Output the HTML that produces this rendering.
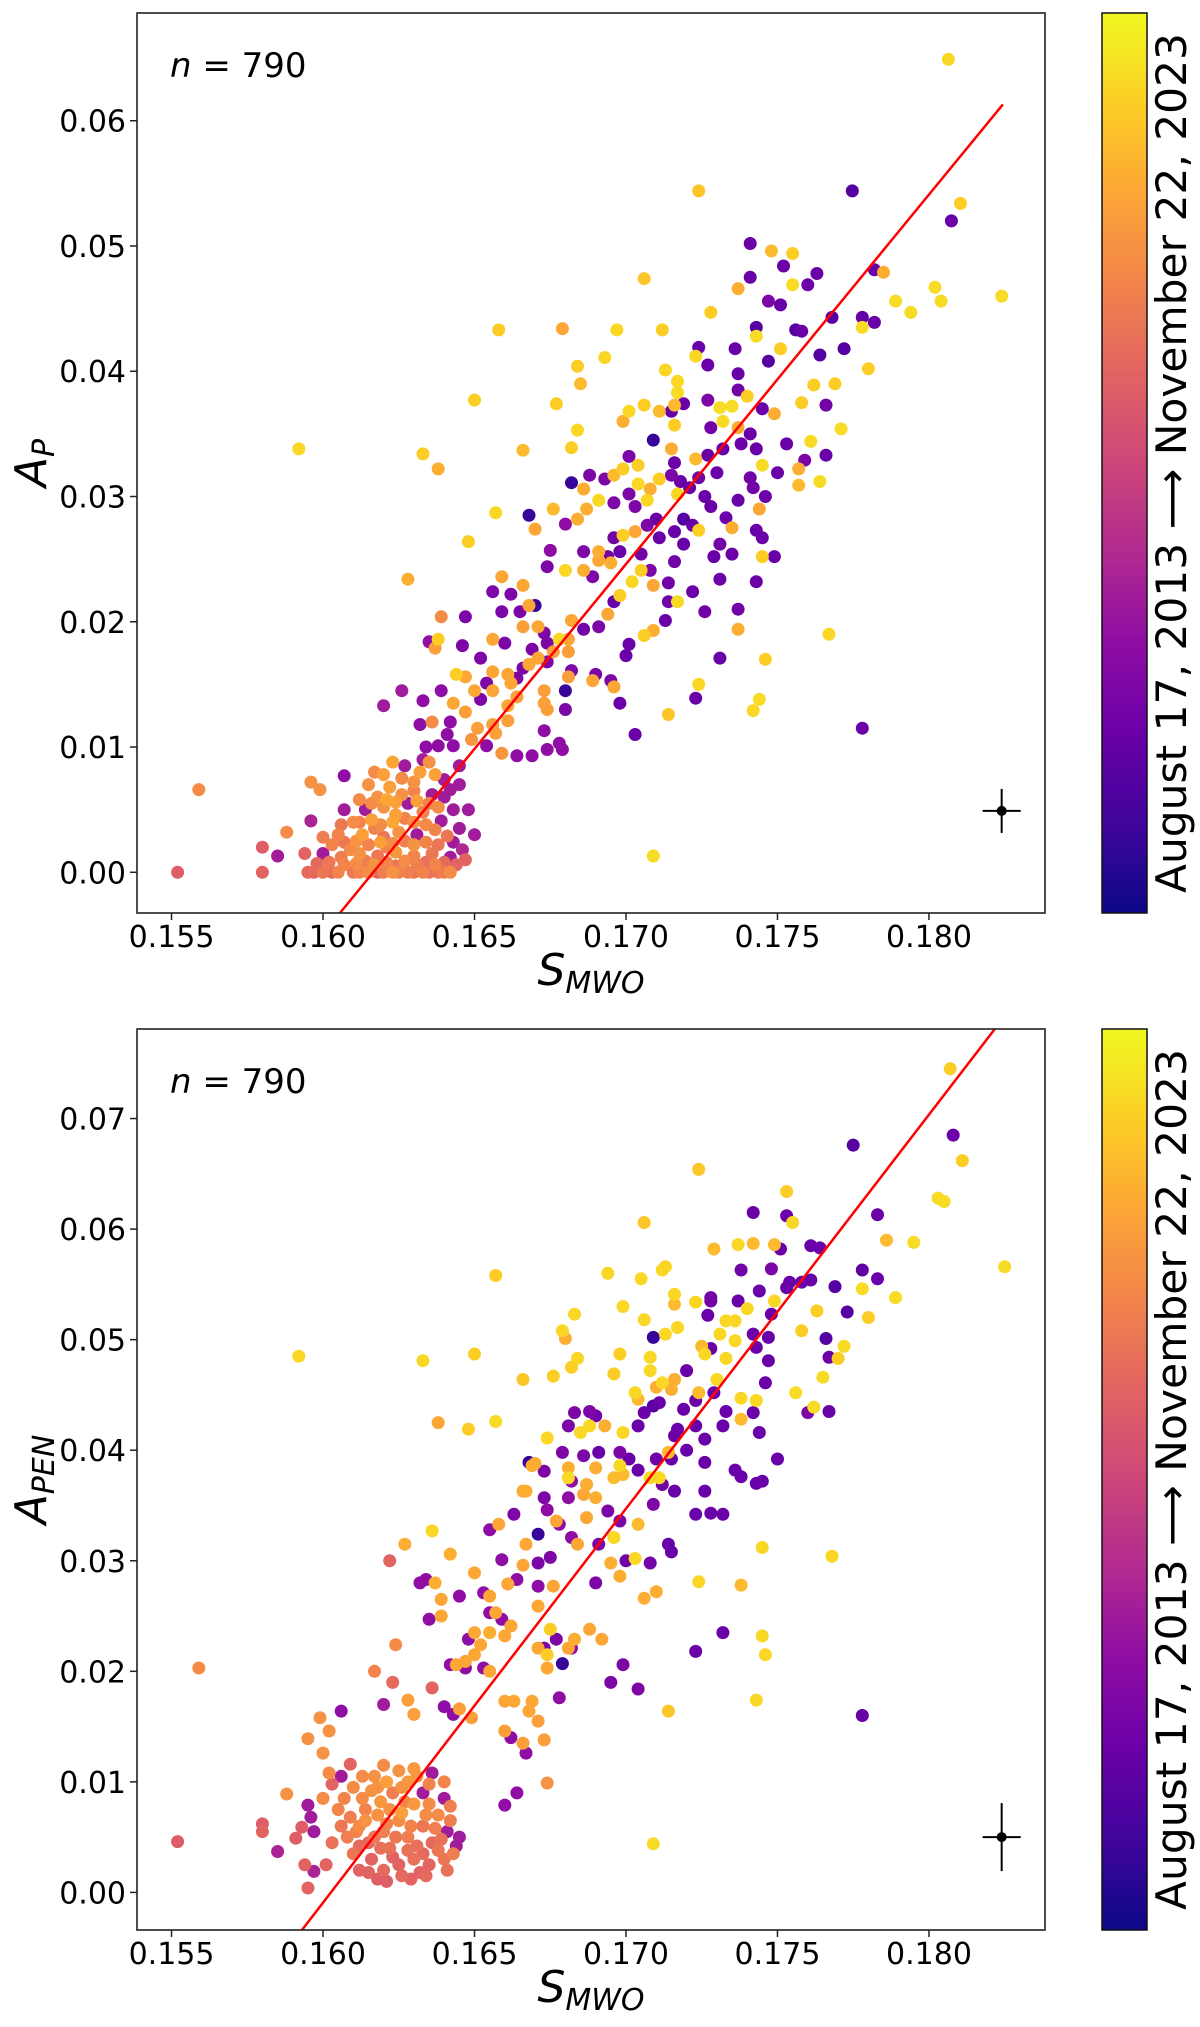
<!DOCTYPE html>
<html><head><meta charset="utf-8"><style>
html,body{margin:0;padding:0;background:#fff;overflow:hidden;width:1200px;height:2027px;}
svg{display:block;font-family:"DejaVu Sans","Liberation Sans",sans-serif;}
</style></head><body>
<svg id="fig" width="1200" height="2027" viewBox="0 0 1200 2027" xmlns="http://www.w3.org/2000/svg">
<defs>
<linearGradient id="plasma" x1="0" y1="1" x2="0" y2="0">
<stop offset="0" stop-color="#0d0887"/><stop offset="0.1" stop-color="#41049d"/><stop offset="0.2" stop-color="#6a00a8"/><stop offset="0.3" stop-color="#8f0da4"/><stop offset="0.4" stop-color="#b12a90"/><stop offset="0.5" stop-color="#cc4778"/><stop offset="0.6" stop-color="#e16462"/><stop offset="0.7" stop-color="#f2844b"/><stop offset="0.8" stop-color="#fca636"/><stop offset="0.9" stop-color="#fcce25"/><stop offset="1" stop-color="#f0f921"/>
</linearGradient>
<clipPath id="clipTop"><rect x="137" y="13" width="908" height="900"/></clipPath>
<clipPath id="clipBot"><rect x="137" y="1029" width="908" height="901"/></clipPath>
</defs>
<g id="top"></g>
<g id="bot"></g>
</svg>
<script>
const xTicks=[0.155,0.160,0.165,0.170,0.175,0.180];
const xTickLabels=["0.155","0.160","0.165","0.170","0.175","0.180"];
const topYTicks=[0,0.01,0.02,0.03,0.04,0.05,0.06];
const topYTickLabels=["0.00","0.01","0.02","0.03","0.04","0.05","0.06"];
const botYTicks=[0,0.01,0.02,0.03,0.04,0.05,0.06,0.07];
const botYTickLabels=["0.00","0.01","0.02","0.03","0.04","0.05","0.06","0.07"];
const topFit=[2.95,0.16166,0.18244];
const botFit=[3.564,0.16026,0.1835];
const topErr=[0.1824,0.0049];
const botErr=[0.1824,0.0050];
const topPoints=[
[0.18064,0.0649,0.92],[0.18104,0.0534,0.9],[0.18074,0.0520,0.2],[0.17747,0.0544,0.15],[0.1724,0.0544,0.88],[0.1824,0.0460,0.93],[0.1802,0.0467,0.93],[0.1804,0.0456,0.93],[0.1794,0.0447,0.93],[0.1789,0.0456,0.93],[0.1785,0.0479,0.82],[0.1782,0.0481,0.2],[0.1782,0.0439,0.2],[0.1778,0.0443,0.18],[0.1778,0.0435,0.93],[0.1780,0.0402,0.9],[0.1772,0.0418,0.15],[0.1768,0.0443,0.15],[0.1769,0.0390,0.9],[0.1771,0.0354,0.93],[0.1766,0.0373,0.22],[0.1766,0.0333,0.2],[0.1764,0.0312,0.93],[0.1764,0.0413,0.15],[0.1762,0.0389,0.9],[0.1761,0.0344,0.93],[0.1759,0.0329,0.25],[0.1758,0.0375,0.9],[0.1763,0.0478,0.2],[0.1760,0.0469,0.2],[0.1758,0.0432,0.2],[0.1756,0.0433,0.15],[0.1755,0.0494,0.9],[0.1748,0.0496,0.85],[0.1752,0.0484,0.2],[0.1755,0.0469,0.93],[0.1751,0.0453,0.2],[0.1747,0.0456,0.25],[0.1751,0.0418,0.9],[0.1747,0.0408,0.15],[0.1749,0.0366,0.82],[0.1753,0.0342,0.2],[0.1757,0.0322,0.82],[0.1757,0.0309,0.85],[0.1750,0.0319,0.2],[0.1745,0.0325,0.93],[0.1746,0.0300,0.2],[0.1744,0.0290,0.8],[0.1742,0.0307,0.22],[0.1741,0.0315,0.22],[0.1738,0.0342,0.2],[0.1741,0.0350,0.2],[0.1743,0.0338,0.2],[0.1741,0.0502,0.2],[0.1741,0.0475,0.2],[0.1737,0.0466,0.82],[0.1743,0.0435,0.15],[0.1736,0.0418,0.2],[0.1737,0.0398,0.2],[0.1743,0.0428,0.93],[0.1737,0.0385,0.22],[0.1740,0.0380,0.9],[0.1731,0.0371,0.93],[0.1735,0.0372,0.93],[0.1745,0.0370,0.2],[0.1737,0.0355,0.82],[0.1732,0.0360,0.93],[0.1728,0.0355,0.22],[0.1732,0.0338,0.2],[0.1730,0.0319,0.2],[0.1726,0.0300,0.2],[0.1724,0.0315,0.22],[0.1728,0.0292,0.2],[0.1737,0.0297,0.2],[0.1735,0.0275,0.82],[0.1733,0.0283,0.2],[0.1743,0.0273,0.2],[0.1745,0.0267,0.2],[0.1731,0.0262,0.22],[0.1735,0.0254,0.2],[0.1745,0.0252,0.9],[0.1749,0.0252,0.2],[0.1724,0.0273,0.9],[0.1729,0.0252,0.2],[0.1731,0.0234,0.2],[0.1737,0.0210,0.22],[0.1743,0.0232,0.2],[0.1737,0.0194,0.82],[0.1746,0.0170,0.9],[0.1731,0.0171,0.2],[0.1742,0.0129,0.92],[0.1744,0.0138,0.93],[0.1724,0.0150,0.92],[0.1723,0.0139,0.2],[0.1714,0.0126,0.88],[0.1767,0.0190,0.92],[0.1778,0.0115,0.2],[0.1709,0.0013,0.93],[0.1703,0.0110,0.2],[0.1698,0.0135,0.2],[0.1700,0.0173,0.2],[0.1701,0.0182,0.2],[0.1706,0.0189,0.9],[0.1709,0.0193,0.82],[0.1713,0.0201,0.2],[0.1714,0.0216,0.22],[0.1717,0.0216,0.93],[0.1722,0.0224,0.2],[0.1726,0.0208,0.22],[0.1714,0.0231,0.22],[0.1709,0.0229,0.8],[0.1702,0.0232,0.92],[0.1705,0.0241,0.9],[0.1708,0.0241,0.25],[0.1716,0.0248,0.22],[0.1719,0.0262,0.2],[0.1711,0.0267,0.2],[0.1716,0.0272,0.2],[0.1722,0.0277,0.2],[0.1719,0.0282,0.15],[0.1710,0.0282,0.2],[0.1707,0.0277,0.25],[0.1703,0.0272,0.8],[0.1699,0.0269,0.9],[0.1696,0.0267,0.22],[0.1698,0.0256,0.2],[0.1705,0.0254,0.22],[0.1694,0.0252,0.22],[0.1695,0.0247,0.82],[0.1691,0.0249,0.8],[0.1686,0.0256,0.25],[0.1689,0.0236,0.25],[0.1698,0.0221,0.9],[0.1696,0.0216,0.2],[0.1694,0.0206,0.8],[0.1691,0.0196,0.25],[0.1686,0.0194,0.22],[0.1682,0.0201,0.8],[0.1681,0.0186,0.8],[0.1681,0.0176,0.78],[0.1678,0.0186,0.92],[0.1676,0.0176,0.78],[0.1682,0.0161,0.25],[0.1681,0.0156,0.78],[0.1689,0.0153,0.8],[0.1690,0.0158,0.25],[0.1695,0.0153,0.25],[0.1696,0.0148,0.8],[0.1680,0.0130,0.25],[0.1680,0.0145,0.08],[0.1674,0.0130,0.78],[0.1673,0.0135,0.78],[0.1673,0.0145,0.78],[0.1673,0.0113,0.3],[0.1678,0.0103,0.3],[0.1679,0.0098,0.3],[0.1674,0.0098,0.3],[0.1669,0.0093,0.3],[0.1664,0.0093,0.3],[0.1659,0.0095,0.75],[0.1657,0.0111,0.78],[0.1654,0.0101,0.3],[0.1649,0.0106,0.75],[0.1651,0.0115,0.78],[0.1656,0.0118,0.78],[0.1661,0.0121,0.78],[0.1661,0.0133,0.8],[0.1664,0.0140,0.78],[0.1662,0.0151,0.8],[0.1661,0.0158,0.8],[0.1664,0.0155,0.25],[0.1666,0.0163,0.25],[0.1668,0.0166,0.8],[0.1671,0.0171,0.8],[0.1674,0.0168,0.25],[0.1674,0.0183,0.25],[0.1673,0.0191,0.25],[0.1671,0.0196,0.8],[0.1669,0.0178,0.25],[0.1666,0.0196,0.78],[0.1665,0.0208,0.25],[0.1668,0.0213,0.8],[0.1670,0.0213,0.08],[0.1666,0.0229,0.8],[0.1662,0.0222,0.25],[0.1659,0.0236,0.8],[0.1656,0.0224,0.25],[0.1659,0.0208,0.25],[0.1660,0.0183,0.25],[0.1656,0.0186,0.8],[0.1652,0.0171,0.25],[0.1656,0.0160,0.8],[0.1654,0.0151,0.25],[0.1656,0.0145,0.8],[0.1652,0.0138,0.25],[0.1650,0.0145,0.8],[0.1647,0.0156,0.8],[0.1644,0.0158,0.9],[0.1647,0.0128,0.78],[0.1643,0.0135,0.8],[0.1642,0.0120,0.3],[0.1641,0.0110,0.3],[0.1643,0.0101,0.3],[0.1638,0.0101,0.3],[0.1636,0.0120,0.72],[0.1632,0.0118,0.3],[0.1634,0.0100,0.3],[0.1633,0.0090,0.35],[0.1646,0.0181,0.25],[0.1647,0.0204,0.25],[0.1639,0.0204,0.72],[0.1638,0.0186,0.9],[0.1637,0.0179,0.78],[0.1635,0.0184,0.3],[0.1639,0.0145,0.3],[0.1633,0.0137,0.3],[0.1626,0.0145,0.35],[0.1620,0.0133,0.35],[0.1628,0.0234,0.82],[0.1633,0.0334,0.9],[0.1638,0.0322,0.82],[0.1592,0.0338,0.92],[0.1559,0.0066,0.72],[0.1552,0.0000,0.58],[0.1580,0.0020,0.58],[0.1580,0.0000,0.6],[0.1585,0.0013,0.35],[0.1588,0.0032,0.72],[0.1596,0.0072,0.74],[0.1596,0.0041,0.38],[0.1599,0.0066,0.74],[0.1607,0.0077,0.3],[0.1607,0.0050,0.35],[0.1648,0.0264,0.9],[0.1650,0.0377,0.9],[0.1658,0.0433,0.9],[0.1657,0.0287,0.92],[0.1666,0.0337,0.85],[0.1668,0.0285,0.08],[0.1670,0.0274,0.8],[0.1679,0.0434,0.8],[0.1677,0.0374,0.9],[0.1682,0.0339,0.9],[0.1684,0.0353,0.92],[0.1685,0.0390,0.85],[0.1684,0.0404,0.9],[0.1693,0.0411,0.92],[0.1697,0.0433,0.92],[0.1706,0.0474,0.88],[0.1712,0.0433,0.9],[0.1713,0.0401,0.92],[0.1717,0.0392,0.92],[0.1717,0.0383,0.93],[0.1716,0.0373,0.85],[0.1711,0.0368,0.85],[0.1706,0.0373,0.9],[0.1701,0.0368,0.92],[0.1699,0.0360,0.82],[0.1696,0.0317,0.85],[0.1691,0.0297,0.92],[0.1688,0.0317,0.25],[0.1693,0.0314,0.25],[0.1682,0.0311,0.08],[0.1686,0.0306,0.82],[0.1687,0.0290,0.82],[0.1684,0.0282,0.82],[0.1680,0.0278,0.3],[0.1676,0.0290,0.85],[0.1675,0.0257,0.3],[0.1674,0.0244,0.25],[0.1680,0.0241,0.92],[0.1686,0.0241,0.82],[0.1691,0.0256,0.82],[0.1696,0.0295,0.25],[0.1701,0.0302,0.25],[0.1703,0.0292,0.25],[0.1704,0.0310,0.92],[0.1699,0.0322,0.9],[0.1701,0.0332,0.25],[0.1704,0.0325,0.9],[0.1709,0.0345,0.08],[0.1711,0.0314,0.9],[0.1708,0.0306,0.82],[0.1707,0.0297,0.92],[0.1715,0.0338,0.82],[0.1715,0.0317,0.25],[0.1718,0.0312,0.2],[0.1721,0.0307,0.2],[0.1717,0.0302,0.92],[0.1716,0.0327,0.2],[0.1716,0.0357,0.9],[0.1715,0.0368,0.2],[0.1719,0.0374,0.2],[0.1723,0.0330,0.85],[0.1727,0.0377,0.25],[0.1727,0.0333,0.2],[0.1724,0.0419,0.2],[0.1723,0.0412,0.92],[0.1728,0.0447,0.9],[0.1727,0.0405,0.2],
[0.1595,0.0,0.62],[0.1600,0.0,0.66],[0.1605,0.0,0.7],[0.1610,0.0,0.66],[0.1615,0.0,0.72],[0.1620,0.0,0.68],[0.1625,0.0,0.7],[0.1630,0.0,0.66],[0.1635,0.0,0.64],[0.1640,0.0,0.68],[0.1612,0.0,0.7],[0.1618,0.0,0.62],[0.1623,0.0,0.74],[0.1628,0.0,0.68],[0.1633,0.0,0.7],[0.1638,0.0,0.66],[0.1603,0.0,0.62],[0.1597,0.0,0.6],[0.1642,0.0,0.72],
[0.1594,0.0015,0.6],[0.1600,0.0015,0.35],[0.1606,0.0012,0.68],[0.1612,0.0015,0.74],[0.1618,0.0013,0.66],[0.1624,0.0016,0.76],[0.1630,0.0013,0.7],[0.1636,0.0015,0.66],[0.1642,0.0012,0.35],[0.1646,0.0018,0.4],[0.1609,0.0018,0.72],[0.1621,0.0020,0.7],
[0.1605,0.0030,0.7],[0.1613,0.0030,0.78],[0.1617,0.0035,0.7],[0.1620,0.0028,0.66],[0.1625,0.0032,0.74],[0.1631,0.0030,0.35],[0.1637,0.0034,0.7],[0.1641,0.0029,0.66],[0.1610,0.0040,0.72],[0.1600,0.0028,0.68],[0.1645,0.0035,0.35],
[0.1614,0.0050,0.35],[0.1620,0.0052,0.74],[0.1624,0.0046,0.78],[0.1628,0.0055,0.35],[0.1633,0.0048,0.7],[0.1638,0.0052,0.72],[0.1643,0.0050,0.35],[0.1618,0.0060,0.74],[0.1630,0.0065,0.7],[0.1622,0.0068,0.78],[0.1636,0.0062,0.35],
[0.1620,0.0078,0.78],[0.1626,0.0075,0.72],[0.1632,0.0080,0.78],[0.1640,0.0074,0.35],[0.1645,0.0070,0.35],[0.1615,0.0070,0.74],[0.1627,0.0085,0.35],[0.1635,0.0088,0.74],[0.1645,0.0085,0.35],
[0.1598,0.0007,0.62],[0.1602,0.0008,0.66],[0.1607,0.0006,0.7],[0.1611,0.0007,0.72],[0.1614,0.0009,0.68],[0.1617,0.0006,0.74],[0.1621,0.0008,0.7],[0.1624,0.0005,0.66],[0.1627,0.0009,0.72],[0.1631,0.0006,0.68],[0.1634,0.0008,0.64],[0.1637,0.0006,0.7],[0.1640,0.0008,0.62],[0.1644,0.0006,0.6],
[0.1603,0.0022,0.7],[0.1607,0.0024,0.66],[0.1611,0.0025,0.74],[0.1615,0.0022,0.7],[0.1619,0.0024,0.78],[0.1623,0.0023,0.72],[0.1627,0.0025,0.68],[0.1630,0.0022,0.74],[0.1634,0.0024,0.7],[0.1638,0.0022,0.66],[0.1643,0.0024,0.35],
[0.1612,0.0040,0.7],[0.1616,0.0042,0.78],[0.1619,0.0038,0.72],[0.1623,0.0040,0.8],[0.1627,0.0043,0.7],[0.1630,0.0040,0.74],[0.1634,0.0038,0.72],[0.1639,0.0041,0.35],[0.1606,0.0038,0.66],
[0.1616,0.0055,0.72],[0.1621,0.0058,0.8],[0.1626,0.0062,0.74],[0.1631,0.0057,0.78],[0.1635,0.0055,0.7],[0.1640,0.0060,0.35],[0.1624,0.0056,0.78],[0.1612,0.0058,0.72],
[0.1617,0.0080,0.72],[0.1623,0.0088,0.8],[0.1630,0.0072,0.74],[0.1637,0.0078,0.78],[0.1642,0.0066,0.35],[0.1648,0.0050,0.35],[0.1650,0.0030,0.35],[0.1647,0.0010,0.6]
];
const botPoints=[
[0.1807,0.0745,0.9],[0.1808,0.0685,0.2],[0.1811,0.0662,0.9],[0.1775,0.0676,0.15],[0.1724,0.0654,0.88],[0.1825,0.0566,0.93],[0.1803,0.0628,0.93],[0.1805,0.0625,0.93],[0.1795,0.0588,0.93],[0.1789,0.0538,0.93],[0.1786,0.0590,0.85],[0.1783,0.0613,0.2],[0.1783,0.0555,0.2],[0.1778,0.0563,0.18],[0.1778,0.0546,0.93],[0.1780,0.0520,0.9],[0.1773,0.0525,0.15],[0.1769,0.0548,0.15],[0.1770,0.0483,0.9],[0.1772,0.0494,0.93],[0.1767,0.0484,0.2],[0.1767,0.0435,0.2],[0.1765,0.0466,0.93],[0.1766,0.0501,0.15],[0.1763,0.0526,0.9],[0.1762,0.0439,0.93],[0.1761,0.0585,0.2],[0.1760,0.0434,0.25],[0.1764,0.0583,0.2],[0.1761,0.0554,0.2],[0.1758,0.0508,0.9],[0.1756,0.0452,0.93],[0.1755,0.0606,0.92],[0.1753,0.0634,0.9],[0.1749,0.0586,0.85],[0.1753,0.0612,0.2],[0.1751,0.0582,0.2],[0.1748,0.0564,0.25],[0.1754,0.0552,0.2],[0.1753,0.0547,0.2],[0.1758,0.0552,0.2],[0.1749,0.0535,0.92],[0.1748,0.0523,0.2],[0.1747,0.0502,0.2],[0.1747,0.0481,0.2],[0.1746,0.0461,0.2],[0.1750,0.0392,0.2],[0.1745,0.0372,0.2],[0.1743,0.0370,0.2],[0.1744,0.0416,0.2],[0.1742,0.0434,0.2],[0.1738,0.0428,0.85],[0.1738,0.0447,0.92],[0.1743,0.0445,0.92],[0.1742,0.0615,0.2],[0.1742,0.0587,0.85],[0.1737,0.0586,0.92],[0.1738,0.0563,0.22],[0.1737,0.0535,0.2],[0.1744,0.0544,0.2],[0.1742,0.0505,0.2],[0.1743,0.0493,0.2],[0.1736,0.0499,0.92],[0.1740,0.0528,0.92],[0.1733,0.0517,0.92],[0.1731,0.0505,0.92],[0.1736,0.0517,0.92],[0.1728,0.0535,0.22],[0.1729,0.0582,0.85],[0.1725,0.0494,0.85],[0.1727,0.0522,0.2],[0.1733,0.0483,0.92],[0.1730,0.0464,0.92],[0.1729,0.0452,0.2],[0.1733,0.0435,0.2],[0.1732,0.0422,0.2],[0.1726,0.0410,0.2],[0.1726,0.0389,0.2],[0.1723,0.0422,0.2],[0.1720,0.0400,0.2],[0.1719,0.0437,0.2],[0.1723,0.0445,0.2],[0.1726,0.0363,0.2],[0.1728,0.0343,0.2],[0.1732,0.0342,0.2],[0.1736,0.0382,0.2],[0.1738,0.0376,0.2],[0.1723,0.0342,0.2],[0.1716,0.0363,0.2],[0.1714,0.0315,0.2],[0.1715,0.0308,0.2],[0.1715,0.0392,0.2],[0.1716,0.0413,0.2],[0.1714,0.0398,0.85],[0.1717,0.0419,0.2],[0.1711,0.0375,0.92],[0.1710,0.0392,0.22],[0.1709,0.0351,0.25],[0.1712,0.0369,0.22],[0.1708,0.0298,0.22],[0.1703,0.0302,0.92],[0.1700,0.0300,0.22],[0.1704,0.0333,0.85],[0.1709,0.0440,0.15],[0.1711,0.0443,0.2],[0.1706,0.0434,0.2],[0.1704,0.0422,0.2],[0.1701,0.0392,0.2],[0.1704,0.0382,0.2],[0.1699,0.0378,0.85],[0.1698,0.0398,0.25],[0.1696,0.0375,0.85],[0.1694,0.0345,0.25],[0.1690,0.0357,0.82],[0.1698,0.0336,0.25],[0.1696,0.0321,0.92],[0.1695,0.0298,0.82],[0.1698,0.0286,0.82],[0.1690,0.0280,0.25],[0.1691,0.0315,0.25],[0.1682,0.0321,0.3],[0.1684,0.0315,0.8],[0.1687,0.0339,0.8],[0.1687,0.0369,0.82],[0.1686,0.0395,0.25],[0.1691,0.0398,0.2],[0.1693,0.0422,0.82],[0.1690,0.0431,0.22],[0.1685,0.0416,0.92],[0.1688,0.0435,0.25],[0.1683,0.0434,0.25],[0.1681,0.0422,0.25],[0.1679,0.0398,0.25],[0.1681,0.0384,0.82],[0.1682,0.0372,0.3],[0.1686,0.0360,0.8],[0.1681,0.0357,0.3],[0.1673,0.0381,0.25],[0.1673,0.0357,0.25],[0.1674,0.0346,0.3],[0.1677,0.0336,0.8],[0.1678,0.0333,0.3],[0.1668,0.0389,0.08],[0.1669,0.0386,0.82],[0.1666,0.0363,0.8],[0.1663,0.0342,0.25],[0.1671,0.0324,0.08],[0.1655,0.0328,0.3],[0.1658,0.0333,0.8],[0.1667,0.0315,0.8],[0.1666,0.0296,0.8],[0.1671,0.0298,0.25],[0.1675,0.0303,0.25],[0.1676,0.0277,0.8],[0.1671,0.0277,0.3],[0.1664,0.0283,0.3],[0.1661,0.0279,0.8],[0.1659,0.0301,0.3],[0.1655,0.0268,0.8],[0.1653,0.0271,0.3],[0.1650,0.0289,0.8],[0.1657,0.0253,0.8],[0.1655,0.0253,0.3],[0.1659,0.0247,0.3],[0.1662,0.0241,0.8],[0.1660,0.0232,0.8],[0.1655,0.0235,0.82],[0.1650,0.0235,0.8],[0.1648,0.0229,0.3],[0.1652,0.0224,0.8],[0.1650,0.0215,0.8],[0.1647,0.0209,0.8],[0.1644,0.0206,0.8],[0.1642,0.0206,0.3],[0.1647,0.0203,0.3],[0.1653,0.0203,0.3],[0.1655,0.0200,0.8],[0.1660,0.0173,0.8],[0.1663,0.0173,0.8],[0.1660,0.0146,0.78],[0.1662,0.0140,0.3],[0.1666,0.0135,0.78],[0.1667,0.0126,0.3],[0.1671,0.0155,0.78],[0.1673,0.0138,0.78],[0.1674,0.0099,0.74],[0.1664,0.0090,0.3],[0.1660,0.0079,0.3],[0.1671,0.0221,0.8],[0.1673,0.0221,0.25],[0.1677,0.0229,0.25],[0.1681,0.0221,0.8],[0.1683,0.0229,0.82],[0.1679,0.0207,0.08],[0.1682,0.0221,0.3],[0.1674,0.0203,0.8],[0.1674,0.0215,0.9],[0.1675,0.0238,0.9],[0.1671,0.0259,0.8],[0.1688,0.0238,0.8],[0.1692,0.0229,0.8],[0.1678,0.0176,0.3],[0.1669,0.0173,0.8],[0.1668,0.0164,0.8],[0.1699,0.0206,0.25],[0.1695,0.0190,0.25],[0.1704,0.0184,0.25],[0.1714,0.0164,0.88],[0.1723,0.0218,0.2],[0.1732,0.0235,0.2],[0.1743,0.0174,0.92],[0.1745,0.0232,0.92],[0.1746,0.0215,0.92],[0.1738,0.0278,0.85],[0.1724,0.0281,0.92],[0.1706,0.0266,0.82],[0.1710,0.0272,0.82],[0.1745,0.0312,0.92],[0.1768,0.0304,0.92],[0.1778,0.0160,0.2],[0.1709,0.0044,0.93],[0.1592,0.0485,0.92],[0.1633,0.0481,0.92],[0.1650,0.0487,0.9],[0.1666,0.0464,0.88],[0.1676,0.0467,0.9],[0.1657,0.0558,0.9],[0.1648,0.0419,0.9],[0.1638,0.0425,0.8],[0.1657,0.0426,0.93],[0.1683,0.0523,0.92],[0.1679,0.0508,0.92],[0.1680,0.0501,0.82],[0.1682,0.0475,0.9],[0.1684,0.0483,0.92],[0.1694,0.0560,0.92],[0.1699,0.0530,0.92],[0.1706,0.0606,0.88],[0.1705,0.0555,0.92],[0.1712,0.0563,0.92],[0.1713,0.0566,0.92],[0.1716,0.0541,0.92],[0.1716,0.0532,0.85],[0.1717,0.0511,0.92],[0.1713,0.0505,0.92],[0.1706,0.0518,0.92],[0.1698,0.0487,0.9],[0.1696,0.0469,0.9],[0.1703,0.0452,0.92],[0.1704,0.0446,0.85],[0.1699,0.0416,0.92],[0.1710,0.0457,0.82],[0.1712,0.0461,0.92],[0.1715,0.0455,0.82],[0.1716,0.0464,0.82],[0.1708,0.0484,0.92],[0.1708,0.0472,0.92],[0.1720,0.0472,0.2],[0.1724,0.0452,0.85],[0.1726,0.0487,0.92],[0.1728,0.0492,0.2],[0.1728,0.0538,0.22],[0.1723,0.0534,0.92],[0.1709,0.0502,0.08],[0.1708,0.0375,0.92],[0.1698,0.0386,0.92],[0.1688,0.0422,0.92],[0.1690,0.0384,0.82],[0.1681,0.0375,0.92],[0.1674,0.0411,0.92],[0.1670,0.0388,0.82],[0.1667,0.0363,0.82],[0.1636,0.0327,0.92],[0.1627,0.0315,0.82],[0.1622,0.0300,0.6],[0.1632,0.0280,0.3],[0.1634,0.0283,0.3],[0.1637,0.0280,0.82],[0.1642,0.0306,0.82],[0.1645,0.0268,0.3],[0.1639,0.0265,0.8],[0.1635,0.0247,0.3],[0.1639,0.0250,0.8],[0.1624,0.0224,0.72],[0.1617,0.0200,0.7],[0.1620,0.0170,0.35],[0.1623,0.0190,0.62],[0.1628,0.0174,0.78],[0.1630,0.0161,0.78],[0.1636,0.0185,0.6],[0.1640,0.0168,0.3],[0.1643,0.0161,0.3],[0.1645,0.0166,0.78],[0.1649,0.0158,0.78],[0.1606,0.0164,0.3],[0.1599,0.0158,0.74],[0.1602,0.0146,0.74],[0.1595,0.0139,0.74],[0.1600,0.0126,0.74],[0.1602,0.0108,0.72],[0.1609,0.0116,0.6],[0.1606,0.0105,0.35],[0.1603,0.0098,0.6],[0.1600,0.0085,0.72],[0.1588,0.0089,0.74],[0.1595,0.0079,0.35],[0.1596,0.0068,0.35],[0.1593,0.0059,0.58],[0.1597,0.0055,0.35],[0.1591,0.0049,0.58],[0.1580,0.0062,0.58],[0.1580,0.0055,0.6],[0.1585,0.0037,0.38],[0.1552,0.0046,0.58],[0.1559,0.0203,0.72],[0.1594,0.0025,0.6],[0.1597,0.0019,0.38],[0.1595,0.0004,0.6],[0.1601,0.0025,0.6],
[0.1608,0.0050,0.68],[0.1612,0.0060,0.72],[0.1615,0.0045,0.62],[0.1618,0.0070,0.74],[0.1620,0.0055,0.68],[0.1622,0.0040,0.64],[0.1625,0.0065,0.72],[0.1628,0.0050,0.68],[0.1630,0.0080,0.76],[0.1633,0.0060,0.66],[0.1636,0.0045,0.62],[0.1638,0.0070,0.72],[0.1641,0.0055,0.35],[0.1643,0.0035,0.68],[0.1613,0.0085,0.72],[0.1618,0.0095,0.74],[0.1623,0.0090,0.68],[0.1628,0.0100,0.76],[0.1633,0.0090,0.35],[0.1616,0.0030,0.6],[0.1620,0.0020,0.62],[0.1625,0.0025,0.6],[0.1630,0.0030,0.64],[0.1635,0.0025,0.6],[0.1640,0.0030,0.66],[0.1618,0.0012,0.58],[0.1612,0.0020,0.6],[0.1626,0.0015,0.62],[0.1632,0.0018,0.6],[0.1610,0.0035,0.66],[0.1645,0.0050,0.35],[0.1622,0.0075,0.74],[0.1627,0.0082,0.7],[0.1635,0.0080,0.72],[0.1640,0.0085,0.35],[0.1614,0.0075,0.7],[0.1606,0.0060,0.66],[0.1603,0.0045,0.64],[0.1625,0.0110,0.74],[0.1620,0.0115,0.72],[0.1610,0.0095,0.72],[0.1605,0.0075,0.7],
[0.1611,0.0055,0.7],[0.1614,0.0065,0.74],[0.1617,0.0050,0.66],[0.1619,0.0082,0.76],[0.1621,0.0062,0.7],[0.1624,0.0050,0.66],[0.1626,0.0072,0.78],[0.1629,0.0060,0.7],[0.1631,0.0042,0.64],[0.1634,0.0070,0.72],[0.1637,0.0058,0.68],[0.1639,0.0048,0.64],[0.1642,0.0065,0.68],[0.1616,0.0092,0.74],[0.1621,0.0100,0.78],[0.1626,0.0095,0.74],[0.1631,0.0105,0.76],[0.1635,0.0098,0.7],[0.1609,0.0068,0.68],[0.1612,0.0042,0.62],[0.1619,0.0040,0.64],[0.1623,0.0032,0.6],[0.1628,0.0038,0.64],[0.1633,0.0035,0.62],[0.1638,0.0038,0.66],[0.1621,0.0010,0.58],[0.1615,0.0018,0.6],[0.1629,0.0012,0.6],[0.1634,0.0015,0.62],[0.1641,0.0020,0.64],[0.1644,0.0042,0.35],[0.1617,0.0105,0.74],[0.1630,0.0112,0.76],[0.1636,0.0108,0.35],[0.1640,0.0100,0.7],[0.1642,0.0078,0.68],[0.1607,0.0085,0.7],[0.1613,0.0105,0.72]
];

const NS="http://www.w3.org/2000/svg";
const stops=[[13,8,135],[65,4,157],[106,0,168],[143,13,164],[177,42,144],[204,71,120],[225,100,98],[242,132,75],[252,166,54],[252,206,37],[240,249,33]];
function plasma(t){t=Math.max(0,Math.min(1,t));const f=t*10,i=Math.min(9,Math.floor(f)),r=f-i;const a=stops[i],b=stops[i+1];return "rgb("+a.map((v,k)=>Math.round(v+(b[k]-v)*r)).join(",")+")";}
function mk(tag,attrs,parent){const e=document.createElementNS(NS,tag);for(const k in attrs)e.setAttribute(k,attrs[k]);parent.appendChild(e);return e;}

const L=137,R=1045,X0=0.15386,X1=0.18383;
function xs(s){return L+(s-X0)/(X1-X0)*(R-L);}

function panel(g,top,bottom,yMin,yMax,yT,yTL,pts,fit,err,vh,yLabelSub,clipId){
  const ys=a=>bottom-(a-yMin)/(yMax-yMin)*(bottom-top);
  const pg=mk("g",{"clip-path":"url(#"+clipId+")"},g);
  
  
  const sorted=pts.slice().sort((p,q)=>p[2]-q[2]);
  sorted.forEach(p=>{
    const c=mk("circle",{cx:xs(p[0]).toFixed(1),cy:ys(p[1]).toFixed(1),r:6.5,fill:plasma(p[2])},pg);
    
    
  });
  const s0=fit[1]+yMin/fit[0];
  const s1=Math.min(fit[2],fit[1]+yMax/fit[0]);
  const ln=mk("line",{x1:xs(s0),y1:ys(fit[0]*(s0-fit[1])),x2:xs(s1),y2:ys(fit[0]*(s1-fit[1])),stroke:"#ff0000","stroke-width":2.5},pg);
  
  
  const ex=xs(err[0]),ey=ys(err[1]);
  const eg=mk("g",{stroke:"#000","stroke-width":2},g);
  
  
  mk("line",{x1:ex,y1:ey-vh,x2:ex,y2:ey+vh},eg);
  mk("line",{x1:ex-19,y1:ey,x2:ex+19,y2:ey},eg);
  mk("circle",{cx:ex,cy:ey,r:5,fill:"#000",stroke:"none"},eg);
  const fr=mk("rect",{x:L,y:top,width:R-L,height:bottom-top,fill:"none",stroke:"#222","stroke-width":1.6},g);
  
  
  xTicks.forEach((v,i)=>{
    const x=xs(v);
    mk("line",{x1:x,y1:bottom,x2:x,y2:bottom+7,stroke:"#222","stroke-width":1.5},g);
    const t=mk("text",{x:x,y:bottom+34,"font-size":30,"text-anchor":"middle",fill:"#000"},g);
    t.textContent=xTickLabels[i];
    
    
  });
  yT.forEach((v,i)=>{
    const y=ys(v);
    mk("line",{x1:L-7,y1:y,x2:L,y2:y,stroke:"#222","stroke-width":1.5},g);
    const t=mk("text",{x:L-11,y:y+11,"font-size":30,"text-anchor":"end",fill:"#000"},g);
    t.textContent=yTL[i];
    
    
  });
  const xt=mk("text",{x:591,y:bottom+72,"font-size":44,"text-anchor":"middle","font-style":"italic",fill:"#000"},g);
  xt.innerHTML='S<tspan font-size="30" dy="8">MWO</tspan>';
  
  
  const cy=(top+bottom)/2;
  const yt=mk("text",{x:0,y:0,"font-size":44,"text-anchor":"middle","font-style":"italic",fill:"#000",transform:"translate(46,"+cy+") rotate(-90)"},g);
  yt.innerHTML='A<tspan font-size="30" dy="8">'+yLabelSub+'</tspan>';
  
  
  const nt=mk("text",{x:170,y:top+64,"font-size":34,fill:"#000"},g);
  nt.innerHTML='<tspan font-style="italic">n</tspan> = 790';
  
  
  const cb=mk("rect",{x:1102,y:top,width:45,height:bottom-top,fill:"url(#plasma)",stroke:"#111","stroke-width":1.5},g);
  
  
  const cl=mk("text",{x:0,y:0,"font-size":42,"text-anchor":"middle",fill:"#000",textLength:bottom-top-40,lengthAdjust:"spacingAndGlyphs",transform:"translate(1186,"+cy+") rotate(-90)"},g);
  cl.textContent="August 17, 2013 \u27f6 November 22, 2023";
  
  
}
panel(document.getElementById("top"),13,913,-0.00325,0.0686,topYTicks,topYTickLabels,topPoints,topFit,topErr,22,"P","clipTop");
panel(document.getElementById("bot"),1029,1930,-0.0034,0.0781,botYTicks,botYTickLabels,botPoints,botFit,botErr,34,"PEN","clipBot");
</script>
</body></html>
